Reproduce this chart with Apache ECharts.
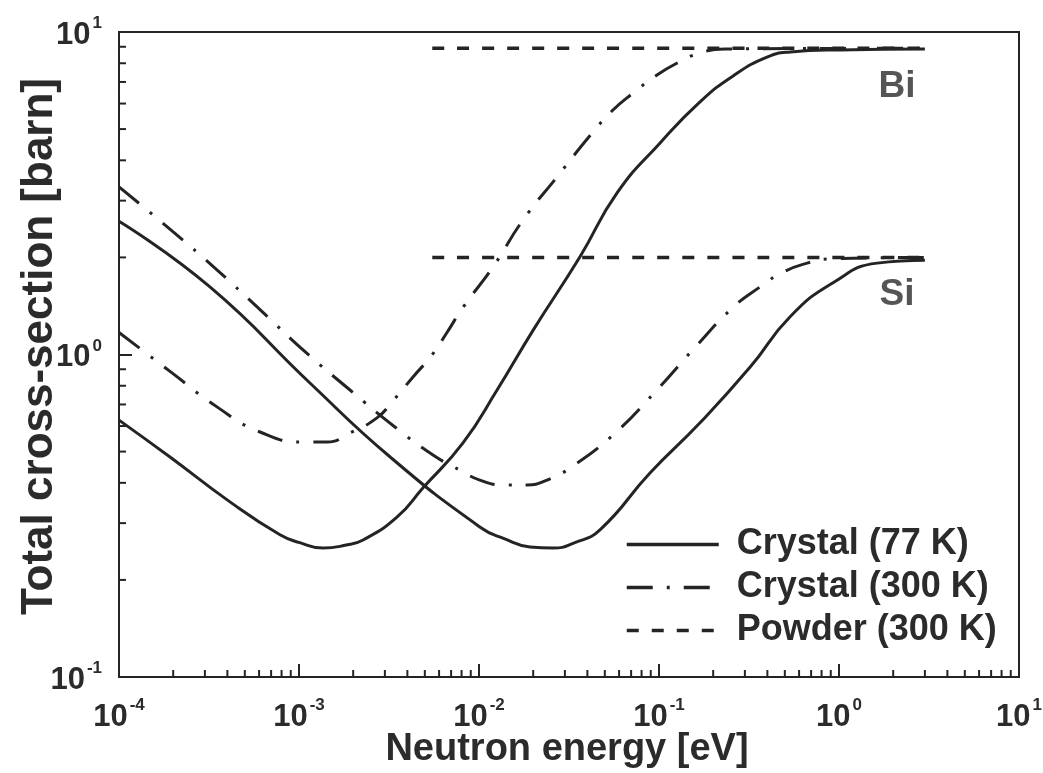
<!DOCTYPE html>
<html>
<head>
<meta charset="utf-8">
<script src="https://cdn.jsdelivr.net/npm/echarts@6/dist/echarts.min.js"></script>
<style>
  html, body { margin: 0; padding: 0; background: #ffffff; }
  #chart { width: 1043px; height: 773px; }
</style>
</head>
<body>
<div id="chart"></div>
<script>
// Total neutron cross-sections of Bi and Si (crystal and powder)

// Axis ticks (decade exponents)
const xTickExponents = [-4, -3, -2, -1, 0, 1];
const yTickExponents = [-1, 0, 1];
const minorMultipliers = [2, 3, 4, 5, 6, 7, 8, 9];

// Bi, single crystal at 77 K
const biCrystal77E = [1e-4, 1.92e-4, 4.08e-4, 7.84e-4, 1.01e-3, 1.36e-3, 1.80e-3, 2.27e-3, 3.50e-3, 4.89e-3, 8.15e-3, 0.0126, 0.0200, 0.0364, 0.0585, 0.1014, 0.169, 0.258, 0.398, 0.535, 1.01, 3.0];
const biCrystal77S = [0.626, 0.481, 0.351, 0.276, 0.261, 0.251, 0.256, 0.266, 0.313, 0.386, 0.532, 0.776, 1.19, 2.01, 3.17, 4.53, 6.07, 7.31, 8.36, 8.67, 8.80, 8.85];

// Si, single crystal at 77 K
const siCrystal77E = [1e-4, 3.20e-4, 1.15e-3, 3.21e-3, 0.0101, 0.0139, 0.0192, 0.0258, 0.0341, 0.0470, 0.0891, 0.169, 0.321, 0.535, 0.927, 1.63, 3.0];
const siCrystal77S = [2.59, 1.62, 0.816, 0.481, 0.292, 0.268, 0.253, 0.251, 0.261, 0.286, 0.429, 0.614, 0.914, 1.31, 1.67, 1.92, 1.96];

// Bi, single crystal at 300 K
const biCrystal300E = [1e-4, 1.97e-4, 3.50e-4, 6.07e-4, 1.05e-3, 1.43e-3, 1.92e-3, 2.71e-3, 3.29e-3, 4.30e-3, 5.48e-3, 6.64e-3, 8.15e-3, 0.01197, 0.01754, 0.0271, 0.0425, 0.0555, 0.0718, 0.0975, 0.126, 0.169, 0.233, 3.0];
const biCrystal300S = [1.17, 0.877, 0.688, 0.575, 0.535, 0.535, 0.571, 0.636, 0.713, 0.852, 0.996, 1.17, 1.40, 1.87, 2.61, 3.55, 4.86, 5.73, 6.47, 7.36, 8.01, 8.61, 8.86, 8.9];

// Si, single crystal at 300 K
const siCrystal300E = [1e-4, 2.0e-4, 3.50e-4, 6.22e-4, 1.08e-3, 1.92e-3, 3.41e-3, 5.55e-3, 7.83e-3, 0.0101, 0.0136, 0.0185, 0.0239, 0.0321, 0.0555, 0.0951, 0.158, 0.258, 0.364, 0.489, 0.664, 0.89, 3.0];
const siCrystal300S = [3.31, 2.40, 1.83, 1.36, 1.02, 0.776, 0.596, 0.488, 0.438, 0.408, 0.394, 0.394, 0.408, 0.445, 0.563, 0.765, 1.05, 1.40, 1.62, 1.80, 1.92, 1.98, 2.0];

// Powders at 300 K (above the Bragg cut-off)
const biPowderE = [0.0055, 3.0];
const biPowderS = [8.9, 8.9];
const siPowderE = [0.0055, 3.0];
const siPowderS = [2.0, 2.0];

// Element labels
const elementNames = ['Bi', 'Si'];
const elementLabelE = [2.10, 2.10];
const elementLabelS = [6.75, 1.53];

const legendNames = ['Crystal (77 K)', 'Crystal (300 K)', 'Powder (300 K)'];

const ink = '#242424';
const textInk = '#2b2b2b';
const font = '"Liberation Sans", Arial, Helvetica, sans-serif';
const xMin = Math.pow(10, xTickExponents[0]);
const xMax = Math.pow(10, xTickExponents[xTickExponents.length - 1]);
const yMin = Math.pow(10, yTickExponents[0]);
const yMax = Math.pow(10, yTickExponents[yTickExponents.length - 1]);

const pairs = (E, S) => E.map((e, i) => [e, S[i]]);

const xMinorTicks = [];
xTickExponents.slice(0, -1).forEach(k => minorMultipliers.forEach(m => xMinorTicks.push([m * Math.pow(10, k), yMin])));
const yMinorTicks = [];
yTickExponents.slice(0, -1).forEach(k => minorMultipliers.forEach(m => yMinorTicks.push([xMin, m * Math.pow(10, k)])));

const powerLabel = v => '{b|10}{s|' + Math.round(Math.log10(v)) + '}';
const labelRich = {
  b: { fontSize: 31, fontWeight: 'bold', fontFamily: font, color: textInk, lineHeight: 34, padding: [6, 0, 0, 0] },
  s: { fontSize: 17, fontWeight: 'bold', fontFamily: font, color: textInk, verticalAlign: 'top', padding: [0, 0, 0, 2] }
};

const solid = { color: ink, width: 3, type: 'solid' };
const dashDot = { color: ink, width: 3, type: [26, 14, 3, 14], cap: 'butt' };
const dashed = { color: ink, width: 3.5, type: [12, 13], cap: 'butt' };

function lineSeries(name, E, S, style) {
  return {
    type: 'line', name: name, data: pairs(E, S),
    showSymbol: false, symbol: 'none', smooth: 0.5,
    lineStyle: style, itemStyle: { color: ink }, silent: true, z: 3
  };
}

const chart = echarts.init(document.getElementById('chart'), null, { renderer: 'canvas' });
chart.setOption({
  animation: false,
  backgroundColor: '#ffffff',
  grid: {
    left: 119, right: 24, top: 32, bottom: 96, outerBoundsMode: 'none',
    show: true, borderColor: ink, borderWidth: 2, backgroundColor: 'transparent'
  },
  legend: {
    data: legendNames,
    orient: 'vertical', left: 625, top: 526, padding: 0,
    itemWidth: 92, itemHeight: 14, itemGap: 6,
    itemStyle: { opacity: 0 },
    lineStyle: { width: 3.5 },
    textStyle: { fontSize: 36, fontWeight: 'bold', fontFamily: font, color: textInk, lineHeight: 37, padding: [0, 0, 0, 13] },
    selectedMode: false
  },
  xAxis: {
    type: 'log', logBase: 10, min: xMin, max: xMax, splitNumber: 5,
    name: 'Neutron energy [eV]', nameLocation: 'middle', nameGap: 54, nameMoveOverlap: false,
    nameTextStyle: { fontSize: 38, fontWeight: 'bold', fontFamily: font, color: textInk, padding: [0, 4, 0, 0] },
    axisLine: { lineStyle: { color: ink, width: 2 } },
    axisTick: { inside: true, length: 13, lineStyle: { color: ink, width: 2 } },
    axisLabel: { formatter: powerLabel, rich: labelRich, margin: 20 },
    splitLine: { show: false }
  },
  yAxis: {
    type: 'log', logBase: 10, min: yMin, max: yMax, splitNumber: 2,
    name: 'Total cross-section [barn]', nameLocation: 'middle', nameGap: 57, nameMoveOverlap: false,
    nameTextStyle: { fontSize: 44, fontWeight: 'bold', fontFamily: font, color: textInk, padding: [0, 0, 0, 16] },
    axisLine: { lineStyle: { color: ink, width: 2 } },
    axisTick: { inside: true, length: 13, lineStyle: { color: ink, width: 2 } },
    axisLabel: { formatter: powerLabel, rich: labelRich, margin: 17 },
    splitLine: { show: false }
  },
  series: [
    lineSeries(legendNames[2], biPowderE, biPowderS, dashed),
    lineSeries(legendNames[2], siPowderE, siPowderS, dashed),
    lineSeries(legendNames[0], biCrystal77E, biCrystal77S, solid),
    lineSeries(legendNames[0], siCrystal77E, siCrystal77S, solid),
    lineSeries(legendNames[1], biCrystal300E, biCrystal300S, dashDot),
    lineSeries(legendNames[1], siCrystal300E, siCrystal300S, dashDot),
    {
      type: 'scatter', name: 'elements', silent: true, symbolSize: 0,
      data: elementNames.map((n, i) => ({ name: n, value: [elementLabelE[i], elementLabelS[i]] })),
      label: { show: true, position: 'inside', formatter: '{b}', fontSize: 37, fontWeight: 'bold', fontFamily: font, color: textInk }
    },
    {
      type: 'custom', name: 'xMinor', silent: true, clip: false, data: xMinorTicks,
      renderItem: (params, api) => {
        const c = api.coord([api.value(0), api.value(1)]);
        return { type: 'line', shape: { x1: c[0], y1: c[1], x2: c[0], y2: c[1] - 7 }, style: { stroke: ink, lineWidth: 2 } };
      }
    },
    {
      type: 'custom', name: 'yMinor', silent: true, clip: false, data: yMinorTicks,
      renderItem: (params, api) => {
        const c = api.coord([api.value(0), api.value(1)]);
        return { type: 'line', shape: { x1: c[0], y1: c[1], x2: c[0] + 7, y2: c[1] }, style: { stroke: ink, lineWidth: 2 } };
      }
    }
  ]
});
</script>
</body>
</html>
